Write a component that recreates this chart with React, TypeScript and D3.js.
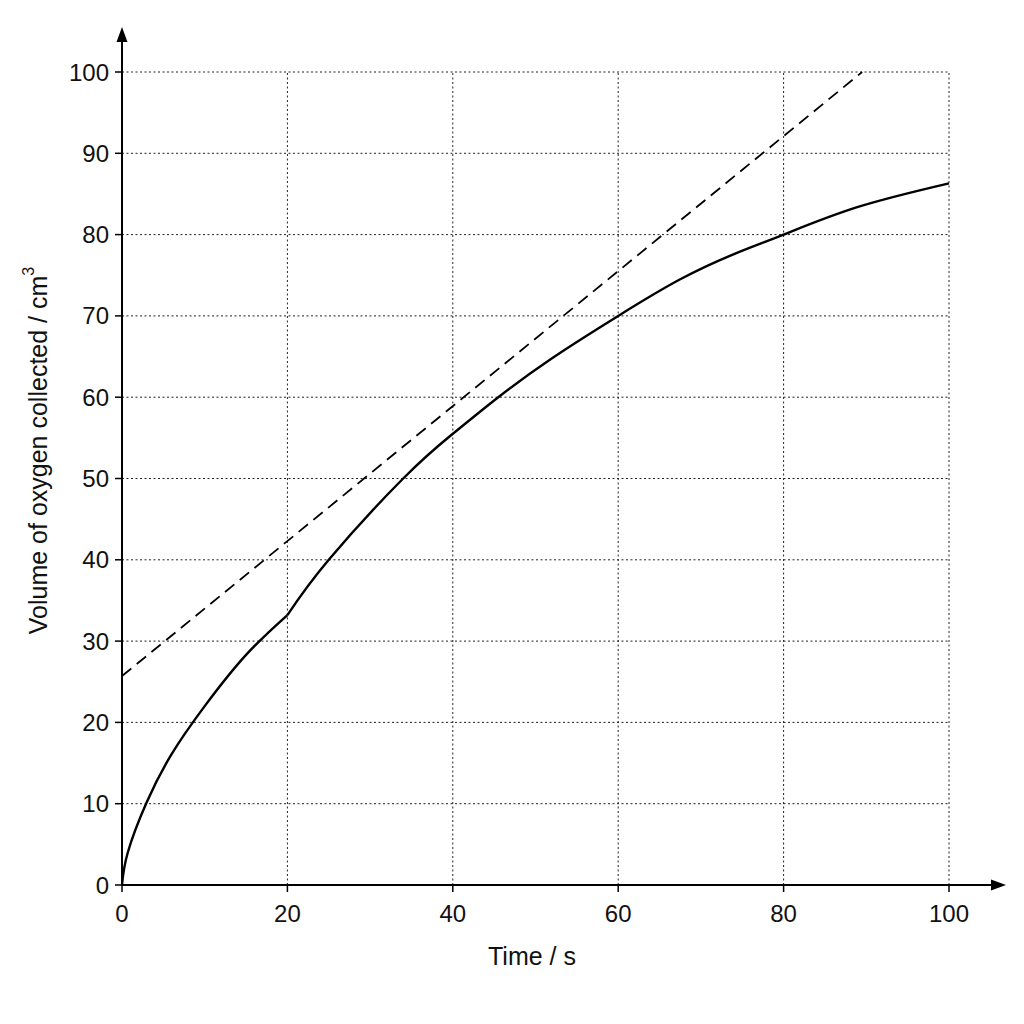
import * as d3 from 'd3';

// values
const xTicks = [0, 20, 40, 60, 80, 100];
const yTicks = [0, 10, 20, 30, 40, 50, 60, 70, 80, 90, 100];

// measured curve, rising steeply up to the kink at 20 s
const earlyCurve: [number, number][] = [
  [0, 0], [0.7, 4], [3, 10.2], [6, 16.1], [10, 22],
  [15, 28.3], [20, 33.2],
];
const lateCurve: [number, number][] = [
  [20, 33.2], [25, 40], [34, 50], [40, 55.5], [45.5, 60],
  [52, 64.8], [60, 70], [67.5, 74.5], [74, 77.6], [80, 80], [89, 83.4],
  [100, 86.3],
];
// dashed tangent line
const tangent: [number, number][] = [[0, 25.7], [89.5, 100]];

const FONT = "'Liberation Sans', Arial, sans-serif";

export default function App() {
  const width = 1024;
  const height = 1024;
  const x = d3.scaleLinear().domain([0, 100]).range([122, 949]);
  const y = d3.scaleLinear().domain([0, 100]).range([885, 72]);

  const curve = d3
    .line<[number, number]>()
    .x((d) => x(d[0]))
    .y((d) => y(d[1]))
    .curve(d3.curveNatural);
  const straight = d3
    .line<[number, number]>()
    .x((d) => x(d[0]))
    .y((d) => y(d[1]));

  const x0 = x(0);
  const y0 = y(0);

  return (
    <svg
      width={width}
      height={height}
      viewBox={`0 0 ${width} ${height}`}
      style={{ position: 'absolute', top: 0, left: 0, background: '#fff' }}
      fontFamily={FONT}
    >
      {/* dotted grid */}
      <g stroke='#222' strokeWidth={1} strokeDasharray='2,2.5'>
        {xTicks.filter((t) => t > 0).map((t) => (
          <line key={'gx' + t} x1={x(t)} x2={x(t)} y1={y(0)} y2={y(100)} />
        ))}
        {yTicks.filter((t) => t > 0).map((t) => (
          <line key={'gy' + t} x1={x(0)} x2={x(100)} y1={y(t)} y2={y(t)} />
        ))}
      </g>

      {/* tick marks */}
      <g stroke='#000' strokeWidth={1.5}>
        {yTicks.map((t) => (
          <line key={'ty' + t} x1={x0 - 7} x2={x0} y1={y(t)} y2={y(t)} />
        ))}
        {xTicks.map((t) => (
          <line key={'tx' + t} x1={x(t)} x2={x(t)} y1={y0} y2={y0 + 7} />
        ))}
      </g>

      {/* tick labels */}
      <g fontSize={24} fill='#111'>
        {yTicks.map((t) => (
          <text key={'ly' + t} x={x0 - 13} y={y(t)} textAnchor='end' dominantBaseline='central'>
            {t}
          </text>
        ))}
        {xTicks.map((t) => (
          <text key={'lx' + t} x={x(t)} y={y0 + 28} textAnchor='middle' dominantBaseline='central'>
            {t}
          </text>
        ))}
      </g>

      {/* axes with arrows */}
      <g stroke='#000' strokeWidth={2}>
        <line x1={x0} x2={x0} y1={y0} y2={38} />
        <line x1={x0} x2={995} y1={y0} y2={y0} />
      </g>
      <path d={`M${x0},27 L${x0 - 5.5},42 L${x0 + 5.5},42 Z`} fill='#000' />
      <path d={`M1006,${y0} L991,${y0 - 5.5} L991,${y0 + 5.5} Z`} fill='#000' />

      {/* data */}
      <path d={straight(tangent) ?? ''} fill='none' stroke='#000' strokeWidth={1.8} strokeDasharray='12,7' />
      <path d={curve(earlyCurve) ?? ''} fill='none' stroke='#000' strokeWidth={2.4} />
      <path d={curve(lateCurve) ?? ''} fill='none' stroke='#000' strokeWidth={2.4} />

      {/* axis titles */}
      <text x={532} y={956} textAnchor='middle' dominantBaseline='central' fontSize={25} fill='#111'>
        Time / s
      </text>
      <text
        transform={`translate(38,${(y(0) + y(100)) / 2 - 28}) rotate(-90)`}
        textAnchor='middle'
        dominantBaseline='central'
        fontSize={25}
        fill='#111'
      >
        Volume of oxygen collected / cm
        <tspan fontSize={16} dy={-10}>3</tspan>
      </text>
    </svg>
  );
}
